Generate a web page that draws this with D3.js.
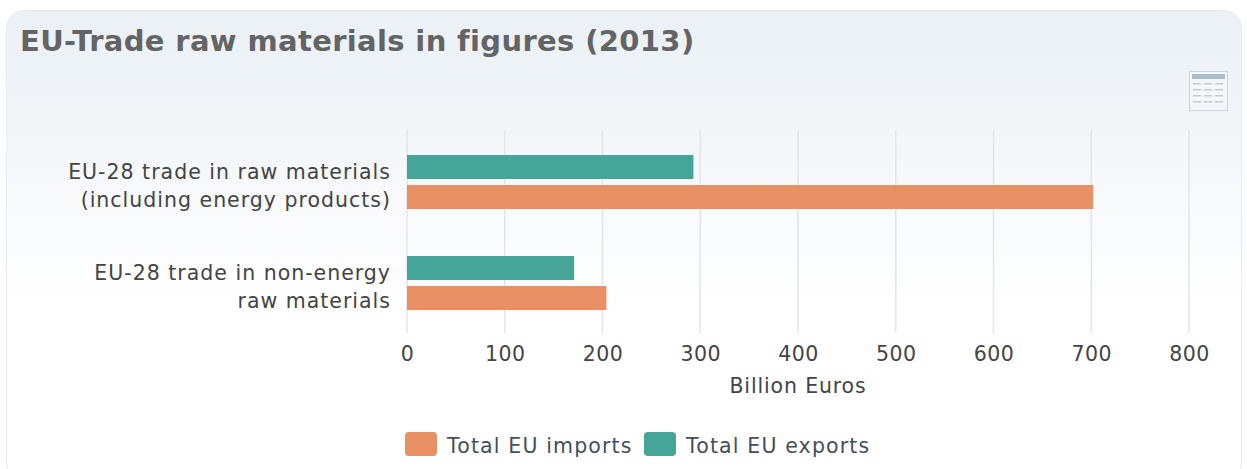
<!DOCTYPE html>
<html><head><meta charset="utf-8">
<script src="https://cdn.jsdelivr.net/npm/d3@7"></script>
<style>html,body{margin:0;padding:0;background:#fff;overflow:hidden}text{font-family:"DejaVu Sans",sans-serif}</style>
</head><body><svg id="c" width="1247" height="469"></svg>
<script>
const categories=[["EU-28 trade in raw materials","(including energy products)"],["EU-28 trade in non-energy","raw materials"]];
const exportsValues=[293,171];
const importsValues=[702,204];
const tickValues=[0,100,200,300,400,500,600,700,800];
const seriesNames=["Total EU imports","Total EU exports"];
const colors=["#e88f63","#45a598"];
const svg=d3.select("#c");
const defs=svg.append("defs");
const g=defs.append("linearGradient").attr("id","bg").attr("x1",0).attr("y1",0).attr("x2",0).attr("y2",1);
g.append("stop").attr("offset","0").attr("stop-color","#eaf0f5");
g.append("stop").attr("offset","0.62").attr("stop-color","#ffffff");
svg.append("rect").attr("x",6.5).attr("y",10.5).attr("width",1235).attr("height",470).attr("rx",18)
 .attr("fill","url(#bg)").attr("stroke","#e8eaec");
svg.append("text").attr("x",20).attr("y",51).attr("font-size",29).attr("letter-spacing",0.35).attr("font-weight","bold").attr("fill","#646464").text("EU-Trade raw materials in figures (2013)");
const ic=svg.append("g").attr("transform","translate(1189,71)");
ic.append("rect").attr("x",.5).attr("y",.5).attr("width",38).attr("height",39).attr("fill","#f4f7f9").attr("stroke","#c8d2da");
ic.append("rect").attr("x",3).attr("y",3).attr("width",33).attr("height",5).attr("fill","#a9bdcd");
for(let r=0;r<4;r++)for(let k=0;k<3;k++)ic.append("rect").attr("x",4+k*11).attr("y",12+r*6).attr("width",8).attr("height",1.5).attr("fill","#c4c9cd");

const x=d3.scaleLinear().domain([0,800]).range([407,1189]);
const y=d3.scaleBand().domain(d3.range(categories.length)).range([131.5,333.5]);
const bar=d3.scaleBand().domain([0,1]).range([23.5,77.5]).paddingInner(0.2);
const axis=d3.axisBottom(x).tickValues(tickValues).tickSize(0).tickPadding(0);
const ax=svg.append("g").attr("transform","translate(0,333)").call(axis);
ax.select(".domain").remove();
ax.selectAll("text").attr("font-size",20.5).attr("letter-spacing",0.4).attr("fill","#444").attr("y",28).attr("dy",0);
svg.append("g").selectAll("line").data(tickValues).join("line")
 .attr("x1",d=>x(d)).attr("x2",d=>x(d)).attr("y1",130).attr("y2",333).attr("stroke","#e4e6e8").attr("stroke-width",1.6);
[[exportsValues,colors[1],0],[importsValues,colors[0],1]].forEach(([vals,col,s])=>{
 svg.append("g").selectAll("rect").data(vals).join("rect")
  .attr("x",x(0)).attr("y",(d,i)=>y(i)+bar(s)).attr("width",d=>x(d)-x(0)).attr("height",bar.bandwidth()).attr("fill",col);
});
categories.forEach((c,i)=>{
 const t=svg.append("text").attr("text-anchor","end").attr("font-size",20.5).attr("letter-spacing",1).attr("fill","#444");
 c.forEach((l,j)=>t.append("tspan").attr("x",391).attr("y",y(i)+47+j*28.5).text(l));
});
svg.append("text").attr("x",798).attr("y",393).attr("text-anchor","middle").attr("font-size",20.5).attr("letter-spacing",0.85).attr("fill","#444").text("Billion Euros");
const lx=[405,644];
seriesNames.forEach((n,i)=>{
 svg.append("rect").attr("x",lx[i]).attr("y",432).attr("width",32).attr("height",24).attr("rx",4).attr("fill",colors[i]);
 svg.append("text").attr("x",lx[i]+42).attr("y",453).attr("font-size",20.5).attr("letter-spacing",1.15).attr("fill","#444f5a").text(n);
});
</script></body></html>
